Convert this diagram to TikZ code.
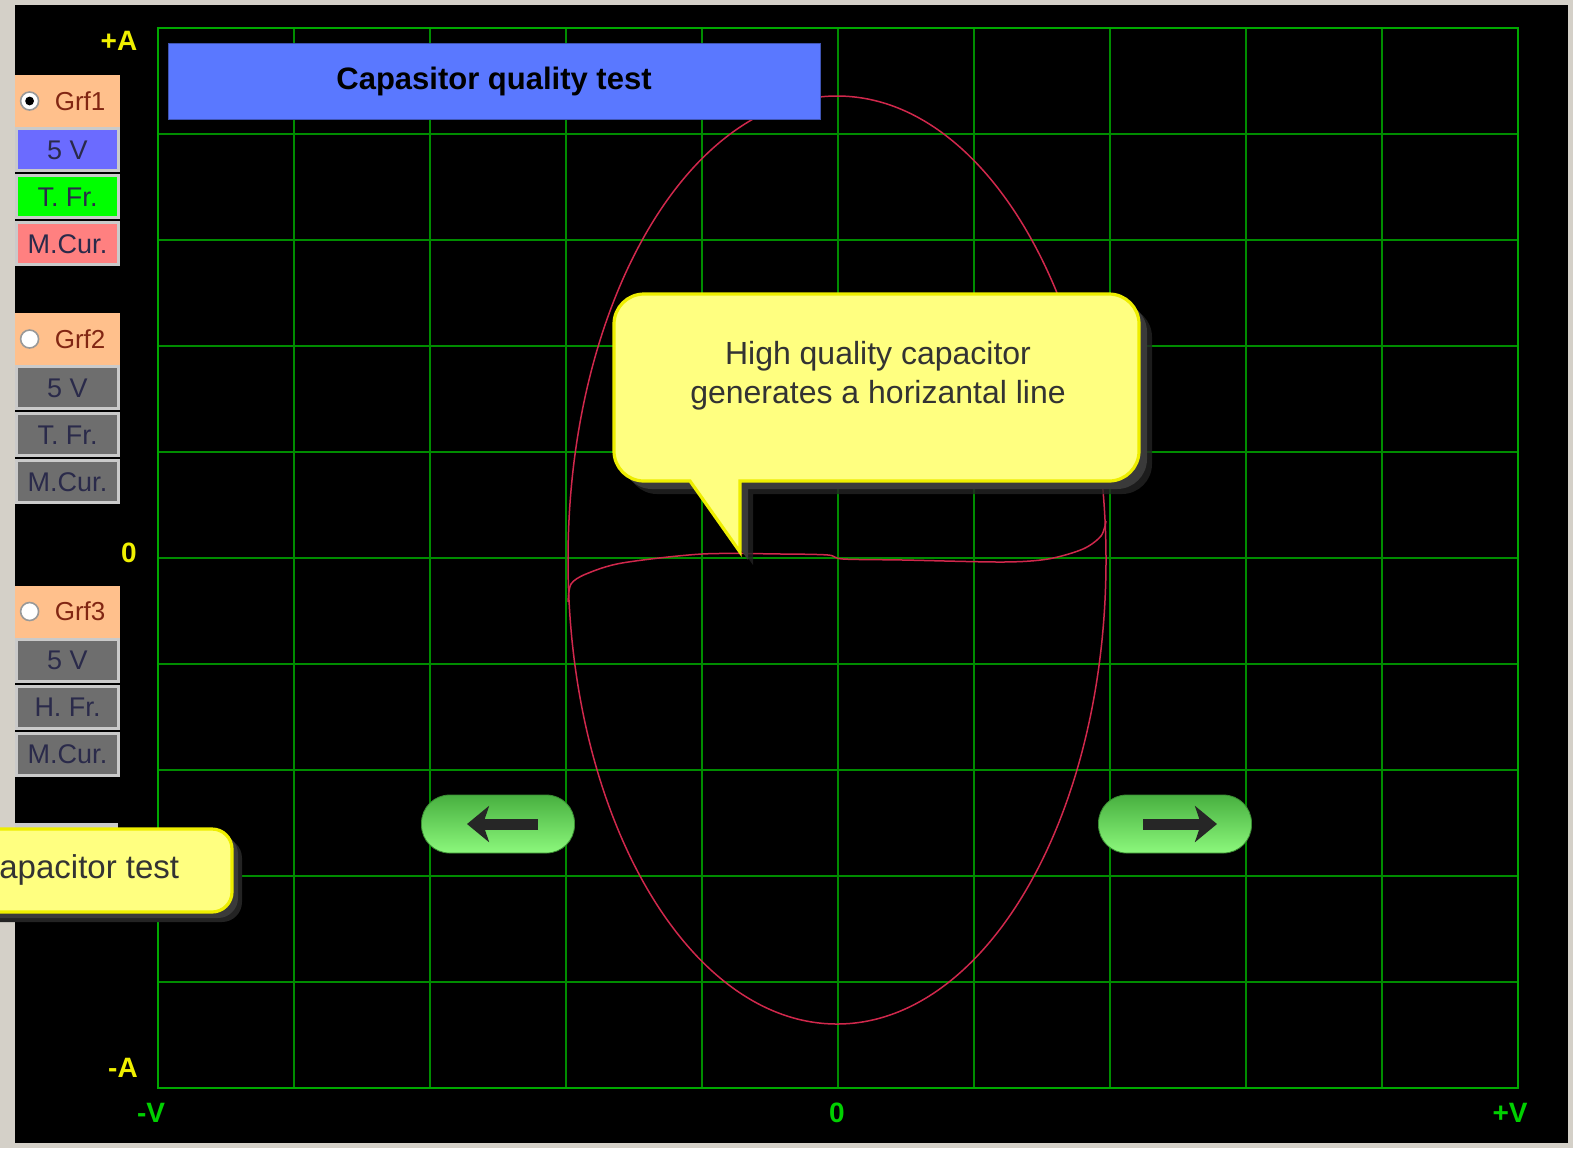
\documentclass[tikz,border=0pt]{standalone}
\usepackage{fontspec}
\setmainfont{Liberation Sans}
\usetikzlibrary{arrows.meta,positioning}
\definecolor{winbg}{HTML}{D4D0C8}
\definecolor{gridgr}{HTML}{008C00}
\definecolor{framegr}{HTML}{00A800}
\definecolor{axyel}{HTML}{F0F000}
\definecolor{axgrn}{HTML}{00D000}
\definecolor{ttlblue}{HTML}{5A78FF}
\definecolor{peach}{HTML}{FFC08C}
\definecolor{btnblue}{HTML}{6B6BFF}
\definecolor{btngreen}{HTML}{00FF00}
\definecolor{btnpink}{HTML}{FF8080}
\definecolor{btngrey}{HTML}{6E6E6E}
\definecolor{btnedge}{HTML}{CACACA}
\definecolor{btntext}{HTML}{2A2A4A}
\definecolor{trace}{HTML}{D0284C}
\definecolor{tipfill}{HTML}{FFFF80}
\definecolor{tipedge}{HTML}{EEEE00}
\definecolor{tipshade}{HTML}{3A3A3A}
\definecolor{pilltop}{HTML}{48B040}
\definecolor{pillbot}{HTML}{8CF87C}
\tikzset{
  >={Stealth[length=11pt,width=18pt,inset=3pt]},
  gline/.style ={draw=gridgr, line width=0.8pt},
  plotframe/.style={draw=framegr, line width=1pt},
  axy/.style   ={font=\fontsize{14}{14}\selectfont\bfseries, text=axyel, inner sep=0pt},
  axg/.style   ={font=\fontsize{14}{14}\selectfont\bfseries, text=axgrn, inner sep=0pt},
  grf/.style   ={fill=peach, minimum width=52.5pt, minimum height=26pt, inner sep=0pt},
  btn/.style   ={draw=btnedge, line width=1.5pt, minimum width=51pt, minimum height=21pt,
                 inner sep=0pt, font=\fontsize{13.5}{13.5}\selectfont, text=btntext},
  radio/.style ={circle, draw=gray!80, fill=white, line width=0.8pt, minimum size=9pt, inner sep=0pt},
  gname/.style ={font=\fontsize{13}{13}\selectfont, text=black!60!red!70!brown, inner sep=0pt},
  trc/.style   ={draw=trace, line width=0.75pt},
  pill/.style  ={rounded corners=14pt, minimum width=76.5pt, minimum height=29pt,
                 top color=pilltop, bottom color=pillbot, draw=pilltop!80!black, line width=0.4pt},
  pillarrow/.style={draw=black!85, line width=5.5pt, ->},
  tipbody/.style={fill=tipfill, draw=tipedge, line width=1.6pt},
  bubble/.style={insert path={(690,481) -- (740,552) -- (740,481) -- (1109,481)
    arc(-90:0:15pt) -- (1139,324) arc(0:90:15pt) -- (644,294) arc(90:180:15pt)
    -- (614,451) arc(180:270:15pt) -- cycle}}
}
\begin{document}
\begin{tikzpicture}[x=0.5pt,y=-0.5pt]
\useasboundingbox (0,0) rectangle (1573,1148);
\fill[winbg] (0,0) rectangle (1573,1148);
\fill[black] (15,5) rectangle (1568,1143);

\foreach \i in {1,...,9}{
  \draw[gline] ({158+136*\i},28) -- ({158+136*\i},1088);
  \draw[gline] (158,{28+106*\i}) -- (1518,{28+106*\i});
}
\draw[plotframe] (158,28) rectangle (1518,1088);

\node[axy] (pa) at (119,41) {+A};
\node[axy] (za) at (129,553) {0};
\node[axy] (ma) at (123,1068) {-A};
\node[axg] (mv) at (151,1113) {-V};
\node[axg] (zv) at (837,1113) {0};
\node[axg] (pv) at (1510,1113) {+V};

\draw[trc] (837,560) ellipse [x radius=134.5pt, y radius=232pt];
\draw[trc] plot[smooth] coordinates {(568,602) (571,584) (586,574) (622,563) (702,554)
  (782,554) (828,555) (843,559) (903,560) (1003,562) (1048,559) (1083,549) (1101,536) (1106,521)};

\node[fill=ttlblue, draw=ttlblue!70!black, line width=0.4pt, minimum width=326pt, minimum height=38pt,
  font=\fontsize{15.5}{15.5}\selectfont\bfseries] (ttl) at (494,81.5) {Capasitor quality test};

\fill[tipshade!60!black, opacity=0.8, shift={(13,13)}, bubble];
\fill[tipshade, shift={(8,8)}, bubble];
\path[tipbody, bubble];
\node[align=center, text=black!80, font=\fontsize{16}{19.5}\selectfont] (hq) at (878,376)
  {High quality capacitor\\generates a horizantal line};

\node[grf] (g1) at (67.5,101) {};
\node[radio] (r1) at ([xshift=7.5pt]g1.west) {};
\fill[black] (r1) circle (2.2pt);
\node[gname, right=7.5pt of r1] (n1) {Grf1};
\node[btn, fill=btnblue, below=0pt of g1] (v1) {5 V};
\node[btn, fill=btngreen, below=1pt of v1] (f1) {T. Fr.};
\node[btn, fill=btnpink, below=1pt of f1] (c1) {M.Cur.};

\node[grf] (g2) at (67.5,339) {};
\node[radio] (r2) at ([xshift=7.5pt]g2.west) {};
\node[gname, right=7.5pt of r2] (n2) {Grf2};
\node[btn, fill=btngrey, below=0pt of g2] (v2) {5 V};
\node[btn, fill=btngrey, below=1pt of v2] (f2) {T. Fr.};
\node[btn, fill=btngrey, below=1pt of f2] (c2) {M.Cur.};

\node[grf] (g3) at (67.5,611.5) {};
\node[radio] (r3) at ([xshift=7.5pt]g3.west) {};
\node[gname, right=7.5pt of r3] (n3) {Grf3};
\node[btn, fill=btngrey, below=0pt of g3] (v3) {5 V};
\node[btn, fill=btngrey, below=1pt of v3] (f3) {H. Fr.};
\node[btn, fill=btngrey, below=1pt of f3] (c3) {M.Cur.};

\fill[btnedge] (15,823) rectangle (118,830);
\fill[tipshade!60!black, rounded corners=10pt] (-40,838) rectangle (242,922);
\fill[tipshade, rounded corners=10pt] (-40,834) rectangle (238,918);
\draw[tipbody, rounded corners=10pt] (-40,829) rectangle (232,912);
\node[anchor=west, text=black!80, font=\fontsize{16.5}{16.5}\selectfont, inner sep=0pt] (ct) at (-1,870) {apacitor test};

\node[pill] (lp) at (498,824) {};
\node[pill] (rp) at (1175,824) {};
\draw[pillarrow] ([xshift=20pt]lp.center) -- ([xshift=-15.5pt]lp.center);
\draw[pillarrow] ([xshift=-16pt]rp.center) -- ([xshift=21pt]rp.center);
\end{tikzpicture}
\end{document}
